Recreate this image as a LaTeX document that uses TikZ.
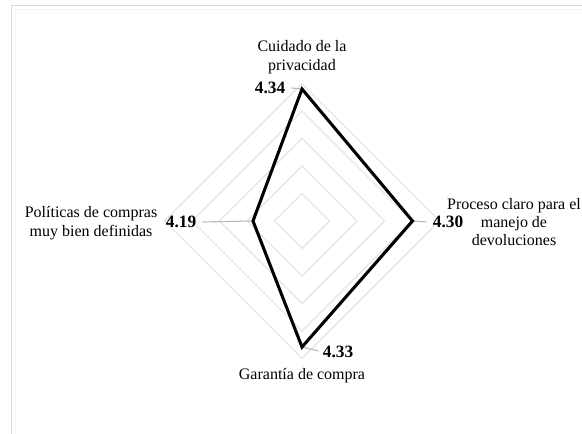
\documentclass[tikz,border=0pt]{standalone}
\usepackage{fontspec}
\setmainfont{Liberation Serif}
\usetikzlibrary{calc}
\begin{document}
\begin{tikzpicture}[x=0.75pt,y=-0.75pt,
  grid/.style={draw=black!10,line width=0.8pt},
  series/.style={draw=black,line width=2.3pt,line join=miter},
  leader/.style={draw=black!28,line width=0.8pt},
  catlabel/.style={font=\fontsize{12pt}{13.8pt}\selectfont,align=center,inner sep=0pt},
  vallabel/.style={font=\fontsize{13pt}{14pt}\selectfont\bfseries,inner sep=0pt}]
\useasboundingbox[fill=white] (0,0) rectangle (582,434);
% frame
\draw[draw=black!15,line width=0.8pt] (11.5,434) -- (11.5,5.5) -- (582,5.5);
\draw[draw=black!4,line width=0.8pt] (15.5,434) -- (15.5,9.5) -- (582,9.5);
% center
\coordinate (O) at (302,221);
% grid diamonds
\foreach \r in {27.5,55,82.5,110,137.5}{
  \draw[grid] ($(O)+(0,-\r)$) -- ($(O)+(\r,0)$) -- ($(O)+(0,\r)$) -- ($(O)+(-\r,0)$) -- cycle;
}
% data vertices
\coordinate (vT) at ($(O)+(0,-132)$);
\coordinate (vR) at ($(O)+(110.5,0)$);
\coordinate (vB) at ($(O)+(0,126)$);
\coordinate (vL) at ($(O)+(-49,0)$);
% value labels
\node[vallabel] (lT) at (270,88) {4.34};
\node[vallabel] (lR) at (448,222) {4.30};
\node[vallabel] (lB) at (338,352) {4.33};
\node[vallabel] (lL) at (181,222) {4.19};
% leaders
\draw[leader] (vT) -- ([xshift=4.5pt]lT.east);
\draw[leader] (vR) -- ([xshift=-4.5pt]lR.west);
\draw[leader] (vB) -- ([yshift=0.75pt,xshift=-3pt]lB.west);
\draw[leader] (vL) -- ([xshift=4.5pt]lL.east);
% series polygon
\draw[series] (vT) -- (vR) -- (vB) -- (vL) -- cycle;
% category labels
\node[catlabel] (cT) at (302,57) {Cuidado de la\\privacidad};
\node[catlabel] (cR) at (514,222) {Proceso claro para el\\manejo de\\devoluciones};
\node[catlabel] (cB) at (302,376) {Garantía de compra};
\node[catlabel] (cL) at (91,223) {Políticas de compras\\muy bien definidas};
\end{tikzpicture}
\end{document}
